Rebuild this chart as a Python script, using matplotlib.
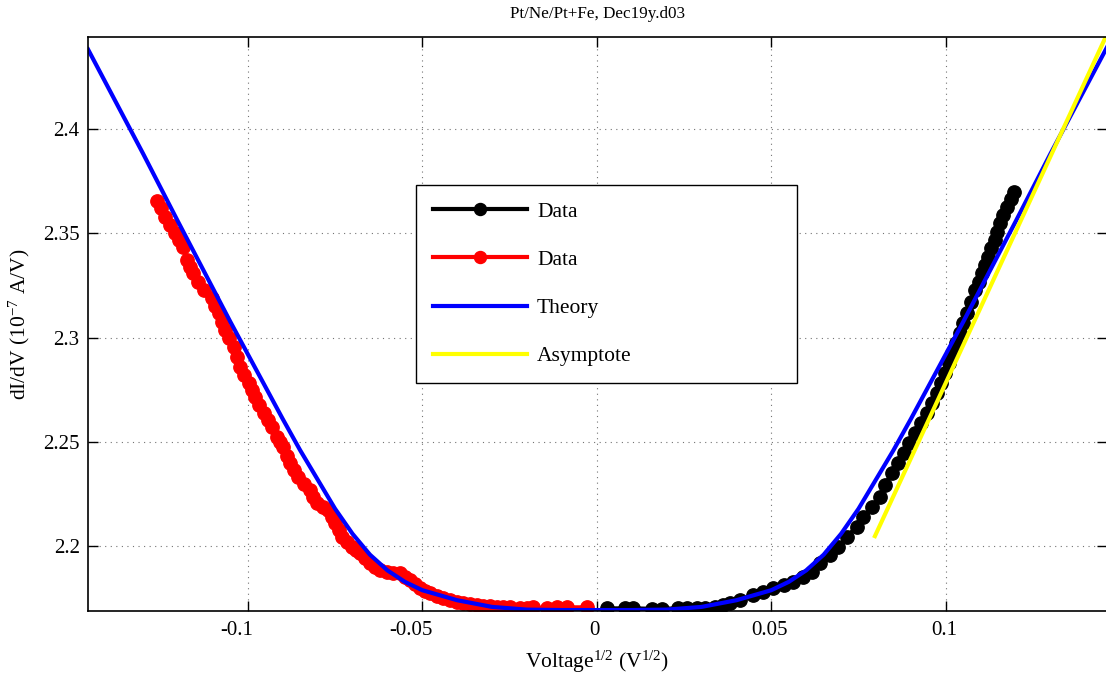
import matplotlib
matplotlib.use('Agg')
import matplotlib.pyplot as plt
import matplotlib.transforms as mtransforms

plt.rcParams['font.family'] = ['Liberation Serif', 'DejaVu Serif']
plt.rcParams['mathtext.fontset'] = 'custom'
plt.rcParams['mathtext.rm'] = 'Liberation Serif'
plt.rcParams['mathtext.it'] = 'Liberation Serif:italic'
plt.rcParams['axes.unicode_minus'] = False

# ---- data ----
red_x = [-0.1259, -0.1248, -0.1237, -0.1222, -0.1208, -0.1196, -0.1185, -0.1175, -0.1165,
         -0.1156, -0.1142, -0.1127, -0.1103, -0.1094, -0.1084, -0.1075, -0.1065, -0.1053,
         -0.1041, -0.1031, -0.1022, -0.1010, -0.0998, -0.0989, -0.0979, -0.0967, -0.0955,
         -0.0943, -0.0931, -0.0917, -0.0908, -0.0898, -0.0888, -0.0879, -0.0867, -0.0855,
         -0.0838, -0.0822, -0.0812, -0.0802, -0.0786, -0.0769, -0.0760, -0.0750, -0.0740,
         -0.0731, -0.0716, -0.0702, -0.0690, -0.0678, -0.0664, -0.0650, -0.0636, -0.0621,
         -0.0602, -0.0583, -0.0564, -0.0550, -0.0535, -0.0520, -0.0506, -0.0492, -0.0478,
         -0.0459, -0.0440, -0.0420, -0.0401, -0.0382, -0.0363, -0.0344, -0.0325, -0.0306,
         -0.0287, -0.0268, -0.0248, -0.0220, -0.0200, -0.0182, -0.0143, -0.0115, -0.0086,
         -0.0029]
red_y = [2.3655, 2.3618, 2.3579, 2.3540, 2.3499, 2.3468, 2.3435, 2.3371, 2.3340,
         2.3307, 2.3268, 2.3228, 2.3188, 2.3150, 2.3116, 2.3075, 2.3036, 2.2996,
         2.2956, 2.2908, 2.2860, 2.2820, 2.2781, 2.2750, 2.2716, 2.2677, 2.2637,
         2.2605, 2.2573, 2.2525, 2.2500, 2.2477, 2.2435, 2.2397, 2.2365, 2.2333,
         2.2300, 2.2270, 2.2238, 2.2206, 2.2190, 2.2174, 2.2142, 2.2110, 2.2078,
         2.2046, 2.2022, 2.1998, 2.1982, 2.1966, 2.1942, 2.1918, 2.1902, 2.1886,
         2.1878, 2.1871, 2.1871, 2.1855, 2.1839, 2.1819, 2.1799, 2.1787, 2.1775,
         2.1763, 2.1751, 2.1743, 2.1735, 2.1729, 2.1724, 2.1719, 2.1714, 2.1712,
         2.1711, 2.1710, 2.1708, 2.1703, 2.1706, 2.1708, 2.1703, 2.1708, 2.1708,
         2.1708]

black_x = [0.0029, 0.0081, 0.0104, 0.0158, 0.0186, 0.0233, 0.0258, 0.0287, 0.0310,
           0.0339, 0.0363, 0.0382, 0.0411, 0.0449, 0.0477, 0.0506, 0.0535, 0.0563,
           0.0592, 0.0616, 0.0640, 0.0668, 0.0692, 0.0716, 0.0745, 0.0764, 0.0788,
           0.0812, 0.0826, 0.0845, 0.0862, 0.0879, 0.0895, 0.0912, 0.0929, 0.0946,
           0.0960, 0.0974, 0.0986, 0.0998, 0.1008, 0.1017, 0.1029, 0.1041, 0.1050,
           0.1060, 0.1072, 0.1084, 0.1094, 0.1103, 0.1112, 0.1122, 0.1131, 0.1141,
           0.1148, 0.1156, 0.1165, 0.1175, 0.1186, 0.1196]
black_y = [2.1703, 2.1703, 2.1703, 2.1701, 2.1701, 2.1703, 2.1703, 2.1703, 2.1703,
           2.1711, 2.1719, 2.1730, 2.1743, 2.1767, 2.1783, 2.1799, 2.1815, 2.1831,
           2.1854, 2.1878, 2.1918, 2.1958, 2.1998, 2.2046, 2.2094, 2.2142, 2.2190,
           2.2238, 2.2294, 2.2350, 2.2398, 2.2445, 2.2493, 2.2541, 2.2589, 2.2637,
           2.2685, 2.2733, 2.2780, 2.2828, 2.2876, 2.2924, 2.2972, 2.3020, 2.3068,
           2.3116, 2.3172, 2.3228, 2.3268, 2.3307, 2.3347, 2.3387, 2.3427, 2.3467,
           2.3507, 2.3547, 2.3587, 2.3626, 2.3662, 2.3698]

theory_x = [-0.1458, -0.13, -0.12, -0.11, -0.105, -0.10, -0.095, -0.09, -0.085, -0.08,
            -0.075, -0.07, -0.065, -0.06, -0.055, -0.05, -0.04, -0.03, -0.02, -0.01, 0.0,
            0.01, 0.02, 0.03, 0.04, 0.05, 0.055, 0.06, 0.065, 0.07, 0.075, 0.08, 0.085,
            0.09, 0.095, 0.10, 0.105, 0.11, 0.12, 0.13, 0.1462]
theory_y = [2.4380, 2.3880, 2.3555, 2.3235, 2.3075, 2.2920, 2.2765, 2.2610, 2.2460, 2.2320,
            2.2180, 2.2060, 2.1960, 2.1885, 2.1830, 2.1790, 2.1742, 2.1710, 2.1697, 2.1695, 2.1695,
            2.1695, 2.1697, 2.1710, 2.1742, 2.1790, 2.1830, 2.1885, 2.1960, 2.2060, 2.2180, 2.2320,
            2.2460, 2.2610, 2.2765, 2.2920, 2.3075, 2.3235, 2.3555, 2.3880, 2.4390]

asym_x = [0.0797, 0.1500]
asym_y = [2.2049, 2.4590]

x_ticks = [-0.1, -0.05, 0, 0.05, 0.1]
x_tick_labels = ['-0.1', '-0.05', '0', '0.05', '0.1']
y_ticks = [2.2, 2.25, 2.3, 2.35, 2.4]
y_tick_labels = ['2.2', '2.25', '2.3', '2.35', '2.4']

# ---- figure ----
fig = plt.figure(figsize=(11.06, 6.73), dpi=100)
ax = fig.add_axes([88 / 1106, 61.7 / 673, 1019 / 1106, 574.3 / 673])

ax.plot(black_x, black_y, '-o', color='black', lw=3, ms=9.6, label='Data')
ax.plot(red_x, red_y, '-o', color='red', lw=3, ms=9.6, label='Data')
ax.plot(theory_x, theory_y, '-', color='blue', lw=3, label='Theory')
ax.plot(asym_x, asym_y, '-', color='yellow', lw=3, label='Asymptote')

ax.set_xlim(-0.1458, 0.1462)
ax.set_ylim(2.1689, 2.4439)
ax.set_xticks(x_ticks)
ax.set_xticklabels(x_tick_labels)
ax.set_yticks(y_ticks)
ax.set_yticklabels(y_tick_labels)

ax.tick_params(direction='in', length=7, width=1, top=True, right=True,
               labelsize=15, pad=6)
ax.tick_params(axis='x', pad=7)
for s in ax.spines.values():
    s.set_linewidth(1.2)
ax.grid(True, linestyle=(0, (1, 4)), color='0.45', linewidth=0.8)

# MATLAB-style placement of tick labels (negative numbers sit further left)
for lbl, txt in zip(ax.get_xticklabels(), x_tick_labels):
    dx = -11 if txt.startswith('-') else -2
    lbl.set_transform(lbl.get_transform() +
                      mtransforms.ScaledTranslation(dx / 100, 0, fig.dpi_scale_trans))

ax.set_title('Pt/Ne/Pt+Fe, Dec19y.d03', fontsize=12.3, pad=14)
ax.set_xlabel('Voltage$^{1/2}$ (V$^{1/2}$)', fontsize=15.5, labelpad=6)
ax.set_ylabel('dI/dV (10$^{-7}$ A/V)', fontsize=15.5, labelpad=8)

leg = ax.legend(loc='upper left', bbox_to_anchor=(0.3219, 0.4, 0.374, 0.3428),
                mode='expand', fancybox=False, framealpha=1, edgecolor='black',
                fontsize=15.5, handlelength=4.37, handletextpad=0.47, labelspacing=1.31,
                borderpad=0.78, borderaxespad=0, markerscale=0.9)
leg.get_frame().set_linewidth(1.0)

fig.savefig('out.png', dpi=100)
